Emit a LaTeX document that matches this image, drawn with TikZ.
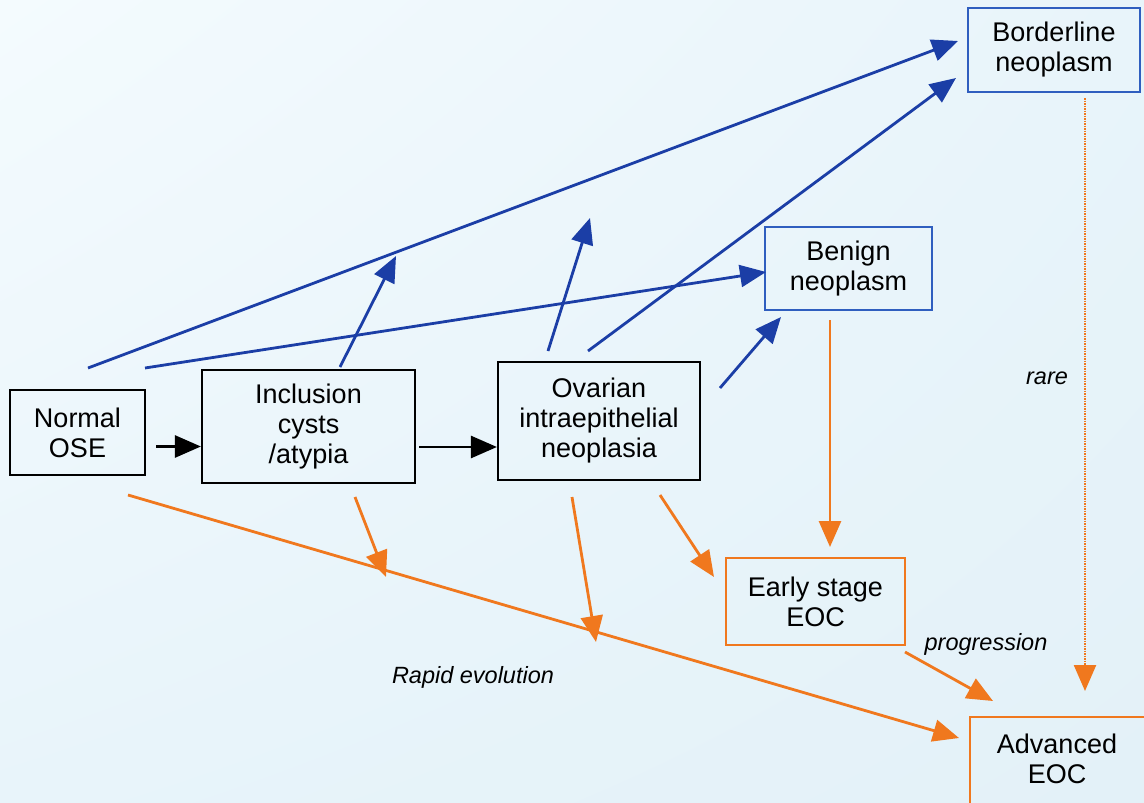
\documentclass[tikz,border=0pt]{standalone}
\usepackage{fontspec}
\setmainfont{Liberation Sans}
\usetikzlibrary{arrows.meta,shadings}
\definecolor{bgA}{HTML}{F4FBFE}
\definecolor{bgB}{HTML}{E8F4FA}
\definecolor{bgC}{HTML}{E3F1F8}
\definecolor{arrblue}{HTML}{1B3EA6}
\definecolor{boxblue}{HTML}{2F5EBF}
\definecolor{orng}{HTML}{F0781E}
\tikzset{
  box/.style={draw, line width=2.2pt, align=center, inner sep=0pt,
    font=\fontsize{27}{30}\selectfont, text=black},
  blackbox/.style={box, draw=black},
  bluebox/.style={box, draw=boxblue, line width=2pt},
  orangebox/.style={box, draw=orng, line width=2pt},
  arrowtip/.style={-{Triangle[length=26pt,width=22pt]}},
  blackarrow/.style={arrowtip, draw=black, line width=2.8pt},
  bluearrow/.style={arrowtip, draw=arrblue, line width=2.8pt},
  orangearrow/.style={arrowtip, draw=orng, line width=2.8pt},
  dottedarrow/.style={arrowtip, draw=orng, line width=2.4pt, dash pattern=on 1.6pt off 0.9pt},
  lbl/.style={font=\fontsize{23.5}{28}\selectfont\itshape, inner sep=0pt}
}
\begin{document}
\begin{tikzpicture}[x=1pt,y=-1pt]
\clip (0,0) rectangle (1144,803);
\useasboundingbox (0,0) rectangle (1144,803);
\shade[upper left=bgA, upper right=bgB, lower left=bgB, lower right=bgC] (0,0) rectangle (1144,803);

% nodes
\node[blackbox, minimum width=135pt, minimum height=85pt] (normal) at (77.5,432.5) {Normal\\OSE};
\node[blackbox, minimum width=213pt, minimum height=113pt] (incl) at (308.5,426.5) {Inclusion\\cysts\\/atypia};
\node[blackbox, minimum width=202pt, minimum height=118pt] (ovar) at (599,421) {Ovarian\\intraepithelial\\neoplasia};
\node[bluebox, minimum width=167pt, minimum height=83pt] (benign) at (848.5,268.5) {Benign\\neoplasm};
\node[bluebox, minimum width=172pt, minimum height=84pt] (border) at (1054,50) {Borderline\\neoplasm};
\node[orangebox, minimum width=179pt, minimum height=87pt] (early) at (815.5,601.5) {Early stage\\EOC};
\node[orangebox, minimum width=180pt, minimum height=92pt] (adv) at (1060,763) {};
\node[font=\fontsize{27}{30}\selectfont, align=center, inner sep=0pt] (advtext) at (1057,759) {Advanced\\EOC};

% free ends and start points
\coordinate (n1) at (88,368);
\coordinate (n2) at (145,368);
\coordinate (n3) at (128,495);
\coordinate (borderA) at (958,41);
\coordinate (borderB) at (956,78);
\coordinate (benignA) at (766,272);
\coordinate (benignB) at (781,317);
\coordinate (i1) at (340,367);
\coordinate (iUp) at (396,256);
\coordinate (i2) at (355,497);
\coordinate (iDown) at (386,577);
\coordinate (o1) at (548,351);
\coordinate (oUp) at (590,218);
\coordinate (o2) at (588,351);
\coordinate (o3) at (720,388);
\coordinate (o4) at (572,497);
\coordinate (oDown) at (596,642);
\coordinate (o5) at (660,495);
\coordinate (earlyA) at (714,577);
\coordinate (b1) at (830,320);
\coordinate (earlyB) at (830,547);
\coordinate (bd1) at (1085,98);
\coordinate (advA) at (1085,691);
\coordinate (e1) at (905,652);
\coordinate (advB) at (993,701);
\coordinate (advC) at (959,738);

% black arrows
\draw[blackarrow] (normal.east) ++(10,14) coordinate (k1) -- (incl.west |- k1);
\draw[blackarrow] (incl.east) ++(3,20.5) coordinate (k2) -- (ovar.west |- k2);

% blue arrows
\draw[bluearrow] (n1) -- (borderA);
\draw[bluearrow] (n2) -- (benignA);
\draw[bluearrow] (i1) -- (iUp);
\draw[bluearrow] (o1) -- (oUp);
\draw[bluearrow] (o2) -- (borderB);
\draw[bluearrow] (o3) -- (benignB);

% orange arrows
\draw[orangearrow] (b1) -- (earlyB);
\draw[dottedarrow] (bd1) -- (advA);
\draw[orangearrow] (n3) -- (advC);
\draw[orangearrow] (i2) -- (iDown);
\draw[orangearrow] (o4) -- (oDown);
\draw[orangearrow] (o5) -- (earlyA);
\draw[orangearrow] (e1) -- (advB);

% labels
\node[lbl] (rare) at (1047,378) {rare};
\node[lbl] (prog) at (986,644) {progression};
\node[lbl] (rapid) at (473,677) {Rapid evolution};
\end{tikzpicture}
\end{document}
